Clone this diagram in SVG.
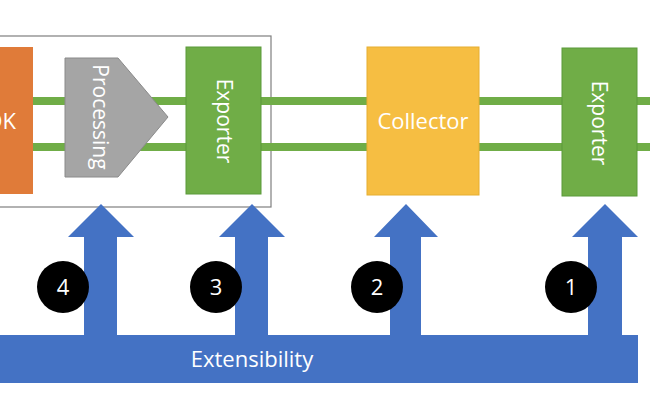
<svg xmlns="http://www.w3.org/2000/svg" width="650" height="400" viewBox="0 0 650 400">
<style>
text{font-family:"Open Sans","Liberation Sans",sans-serif;fill:#fff;font-size:22px}
.v{font-size:21px}
.g{fill:#70AD47;stroke:#5b9a3a;stroke-width:1}
.a{fill:#4472C4}
.c{fill:#000}
</style>
<rect width="650" height="400" fill="#fff"/>
<g id="connectors">
<rect x="-2" y="36" width="273" height="171" fill="none" stroke="#7f7f7f" stroke-width="1.2"/>
<rect x="0" y="97" width="650" height="8" fill="#70AD47"/>
<rect x="0" y="143" width="650" height="8" fill="#70AD47"/>
</g>
<g id="sdk"><rect x="-5" y="47" width="38" height="147" fill="#E07B39"/><text x="16" y="129" text-anchor="end">SDK</text></g>
<g id="processing"><polygon points="65,58 118,58 168,117 118,177 65,177" fill="#A5A5A5" stroke="#8a8a8a"/><text class="v" transform="translate(100,117) rotate(90)" text-anchor="middle" dy="7">Processing</text></g>
<g id="exporter1"><rect class="g" x="186" y="47" width="75" height="147"/><text class="v" transform="translate(224,121) rotate(90)" text-anchor="middle" dy="7">Exporter</text></g>
<g id="collector"><rect x="367" y="47" width="112" height="148" fill="#F6BE42" stroke="#e6ae30"/><text x="423" y="129" text-anchor="middle">Collector</text></g>
<g id="exporter2"><rect class="g" x="562" y="48" width="75" height="148"/><text class="v" transform="translate(599,123) rotate(90)" text-anchor="middle" dy="7">Exporter</text></g>
<g id="extensibility"><rect class="a" x="0" y="335" width="638" height="48"/><text x="252" y="367" text-anchor="middle">Extensibility</text></g>
<g id="arrow4"><polygon class="a" points="84,335 84,237 68,237 101,204 134,237 117,237 117,335"/></g>
<g id="arrow3"><polygon class="a" points="235,335 235,237 219,237 252,204 285,237 268,237 268,335"/></g>
<g id="arrow2"><polygon class="a" points="390,335 390,237 374,237 406,204 438,237 421,237 421,335"/></g>
<g id="arrow1"><polygon class="a" points="588,335 588,237 572,237 605,204 638,237 622,237 622,335"/></g>
<g id="n4"><circle class="c" cx="63" cy="287" r="26"/><text x="63" y="295" text-anchor="middle">4</text></g>
<g id="n3"><circle class="c" cx="216" cy="287" r="26"/><text x="216" y="295" text-anchor="middle">3</text></g>
<g id="n2"><circle class="c" cx="377" cy="287" r="26"/><text x="377" y="295" text-anchor="middle">2</text></g>
<g id="n1"><circle class="c" cx="571" cy="287" r="26"/><text x="571" y="295" text-anchor="middle">1</text></g>
</svg>
